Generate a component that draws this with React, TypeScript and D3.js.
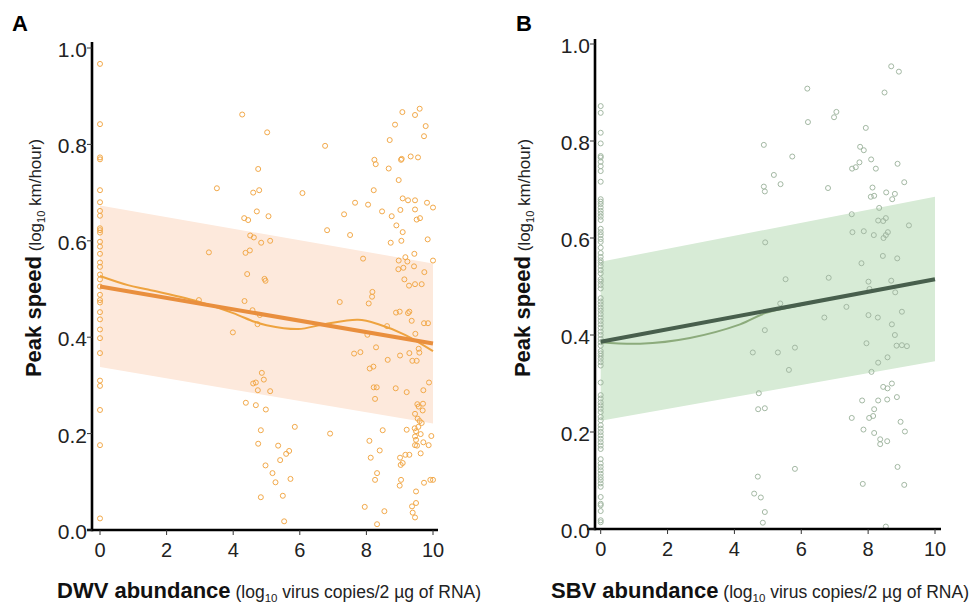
import {useEffect, useRef} from 'react';
import * as d3 from 'd3';

// [abundance, peak speed]
const dwvPoints: [number, number][] = [
  [0, 0.967], [0, 0.842], [0, 0.773], [0, 0.769], [0, 0.705], [0, 0.68], [0, 0.662], [0, 0.652],
  [0, 0.626], [0, 0.622], [0, 0.617], [0, 0.598], [0, 0.588], [0, 0.573], [0, 0.555], [0, 0.546],
  [0, 0.53], [0, 0.52], [0, 0.505], [0, 0.488], [0, 0.477], [0, 0.472], [0, 0.452], [0, 0.437],
  [0, 0.416], [0, 0.398], [0, 0.367], [0, 0.31], [0, 0.299], [0, 0.249], [0, 0.176], [0, 0.024],
  [4.27, 0.862], [5.02, 0.825], [6.76, 0.797], [3.51, 0.709], [4.75, 0.749], [4.6, 0.7], [4.78, 0.705],
  [6.08, 0.699], [4.71, 0.661], [4.33, 0.647], [4.45, 0.643], [5.06, 0.651], [6.82, 0.622], [4.51, 0.611],
  [4.62, 0.607], [4.84, 0.596], [5.11, 0.6], [3.27, 0.576], [4.37, 0.575], [4.5, 0.58], [4.42, 0.531],
  [4.94, 0.521], [4.97, 0.517], [7.33, 0.655], [7.51, 0.612], [7.66, 0.679], [8.05, 0.675], [7.9, 0.563],
  [8.22, 0.705], [8.24, 0.768], [8.28, 0.759], [8.47, 0.661], [8.67, 0.75], [8.7, 0.809], [8.86, 0.841],
  [8.97, 0.726], [9.04, 0.768], [9.06, 0.77], [9.08, 0.867], [9.33, 0.775], [9.55, 0.773], [9.46, 0.861],
  [9.6, 0.874], [9.78, 0.838], [9.73, 0.817], [9.09, 0.688], [9.25, 0.684], [9.46, 0.684], [9.82, 0.679],
  [10, 0.669], [9.02, 0.664], [8.76, 0.651], [9.46, 0.665], [8.9, 0.632], [9.09, 0.618], [9.51, 0.644],
  [9.61, 0.647], [8.73, 0.596], [9.05, 0.6], [9.84, 0.603], [9.44, 0.573], [9.17, 0.566], [8.97, 0.559],
  [9.23, 0.557], [10, 0.559], [8.96, 0.541], [9.11, 0.544], [9.43, 0.547], [9.74, 0.535], [9.14, 0.52],
  [9.28, 0.507], [9.46, 0.51], [9.66, 0.51], [8.18, 0.494], [8.17, 0.484], [4.34, 0.475], [7.2, 0.473],
  [2.97, 0.477], [8.07, 0.47], [4.58, 0.456], [4.8, 0.446], [4.73, 0.427], [3.99, 0.41], [8.89, 0.451],
  [9.0, 0.453], [9.25, 0.45], [9.29, 0.453], [9.36, 0.434], [8.62, 0.423], [9.47, 0.407], [9.73, 0.429],
  [9.85, 0.429], [8.03, 0.405], [8.29, 0.379], [9.57, 0.376], [9.59, 0.368], [7.63, 0.366], [7.82, 0.369],
  [9.01, 0.362], [9.29, 0.367], [8.64, 0.353], [9.38, 0.351], [9.51, 0.351], [8.1, 0.335], [8.21, 0.339],
  [9.88, 0.306], [4.86, 0.326], [4.6, 0.304], [4.68, 0.306], [4.92, 0.312], [4.74, 0.29], [5.11, 0.288],
  [8.22, 0.296], [8.31, 0.296], [8.88, 0.294], [9.21, 0.286], [9.71, 0.29], [8.26, 0.272], [4.38, 0.264],
  [4.68, 0.259], [4.98, 0.25], [9.53, 0.261], [9.57, 0.256], [9.7, 0.262], [9.69, 0.248], [9.46, 0.241],
  [9.54, 0.231], [9.6, 0.226], [9.66, 0.222], [4.83, 0.207], [5.85, 0.214], [6.91, 0.2], [8.49, 0.207],
  [9.21, 0.208], [9.45, 0.211], [9.49, 0.205], [9.56, 0.214], [9.63, 0.199], [9.95, 0.195], [9.46, 0.194],
  [9.49, 0.187], [8.09, 0.185], [9.71, 0.182], [9.87, 0.176], [9.46, 0.176], [9.52, 0.175], [4.75, 0.179],
  [5.35, 0.175], [5.68, 0.164], [5.59, 0.158], [8.4, 0.165], [8.13, 0.15], [9.01, 0.15], [9.17, 0.156],
  [9.29, 0.156], [9.63, 0.159], [5.41, 0.145], [9.03, 0.135], [9.09, 0.139], [4.97, 0.134], [5.18, 0.118],
  [8.32, 0.118], [5.27, 0.099], [5.72, 0.106], [8.26, 0.104], [9.04, 0.104], [9.0, 0.092], [9.73, 0.098],
  [9.92, 0.104], [10, 0.104], [9.49, 0.08], [4.83, 0.068], [5.49, 0.071], [7.95, 0.048], [9.37, 0.049],
  [9.49, 0.056], [8.54, 0.039], [9.39, 0.036], [9.46, 0.026], [5.53, 0.018], [8.32, 0.012],
];

const sbvPoints: [number, number][] = [
  [0, 0.872], [0, 0.858], [0, 0.817], [0, 0.795], [0, 0.769], [0, 0.766], [0, 0.757], [0, 0.748],
  [0, 0.738], [0, 0.716], [0, 0.68], [0, 0.675], [0, 0.67], [0, 0.663], [0, 0.656], [0, 0.65],
  [0, 0.644], [0, 0.637], [0, 0.619], [0, 0.612], [0, 0.606], [0, 0.598], [0, 0.592], [0, 0.58],
  [0, 0.569], [0, 0.561], [0, 0.554], [0, 0.549], [0, 0.542], [0, 0.534], [0, 0.527], [0, 0.515],
  [0, 0.51], [0, 0.503], [0, 0.496], [0, 0.476], [0, 0.469], [0, 0.463], [0, 0.456], [0, 0.45],
  [0, 0.443], [0, 0.436], [0, 0.429], [0, 0.422], [0, 0.415], [0, 0.407], [0, 0.4], [0, 0.392],
  [0, 0.385], [0, 0.378], [0, 0.367], [0, 0.362], [0, 0.357], [0, 0.351], [0, 0.344], [0, 0.337],
  [0, 0.302], [0, 0.276], [0, 0.269], [0, 0.261], [0, 0.255], [0, 0.248], [0, 0.241], [0, 0.231],
  [0, 0.224], [0, 0.214], [0, 0.207], [0, 0.2], [0, 0.193], [0, 0.186], [0, 0.179], [0, 0.172],
  [0, 0.165], [0, 0.144], [0, 0.135], [0, 0.128], [0, 0.121], [0, 0.114], [0, 0.107], [0, 0.101],
  [0, 0.094], [0, 0.087], [0, 0.066], [0, 0.052], [0, 0.049], [0, 0.037], [0, 0.018], [0, 0.014],
  [8.69, 0.954], [8.92, 0.943], [6.18, 0.908], [8.49, 0.9], [6.2, 0.839], [6.98, 0.849], [7.05, 0.86],
  [7.93, 0.827], [4.88, 0.792], [5.73, 0.768], [7.76, 0.788], [7.87, 0.781], [8.09, 0.762], [7.74, 0.756],
  [7.52, 0.743], [7.63, 0.746], [8.23, 0.743], [8.88, 0.753], [5.18, 0.73], [5.38, 0.711], [9.08, 0.715],
  [4.88, 0.706], [4.91, 0.696], [6.8, 0.703], [8.13, 0.704], [8.54, 0.694], [8.8, 0.691], [8.72, 0.68],
  [8.08, 0.685], [8.18, 0.687], [8.33, 0.662], [7.51, 0.649], [8.3, 0.636], [8.45, 0.635], [8.53, 0.641],
  [4.92, 0.591], [7.53, 0.612], [7.87, 0.614], [8.17, 0.606], [8.59, 0.612], [8.53, 0.606], [8.46, 0.6],
  [9.22, 0.626], [8.44, 0.563], [8.87, 0.558], [7.8, 0.548], [5.53, 0.515], [6.82, 0.518], [8.01, 0.51],
  [8.69, 0.512], [8.04, 0.495], [8.81, 0.488], [5.37, 0.465], [7.35, 0.458], [6.69, 0.436], [8.01, 0.441],
  [8.29, 0.436], [9.01, 0.448], [8.71, 0.422], [4.91, 0.41], [8.8, 0.4], [7.95, 0.383], [8.85, 0.378],
  [9.01, 0.379], [9.16, 0.377], [4.55, 0.364], [5.3, 0.364], [5.81, 0.374], [8.58, 0.354], [8.3, 0.343],
  [5.63, 0.328], [8.1, 0.324], [8.45, 0.293], [8.58, 0.29], [8.71, 0.3], [4.73, 0.28], [7.82, 0.265],
  [8.3, 0.265], [8.57, 0.267], [8.86, 0.272], [4.71, 0.247], [4.91, 0.249], [8.18, 0.247], [7.51, 0.229],
  [8.03, 0.229], [8.15, 0.233], [8.97, 0.221], [7.86, 0.205], [8.18, 0.198], [9.1, 0.201], [8.36, 0.185],
  [8.36, 0.175], [8.57, 0.181], [5.81, 0.124], [8.88, 0.128], [4.7, 0.108], [7.84, 0.093], [9.08, 0.091],
  [4.59, 0.073], [4.79, 0.065], [4.91, 0.035], [4.85, 0.013], [8.53, 0.005],
];

// [x, lower, upper]
const dwvBand: [number, number, number][] = [[0, 0.338, 0.673], [10, 0.221, 0.553]];
const sbvBand: [number, number, number][] = [[0, 0.223, 0.551], [10, 0.346, 0.685]];

// linear fit endpoints
const dwvFit: [number, number][] = [[0, 0.505], [10, 0.387]];
const sbvFit: [number, number][] = [[0, 0.386], [10, 0.515]];

// smoothed fit
const dwvLoess: [number, number][] = [
  [0, 0.527], [0.84, 0.508], [1.44, 0.499], [2.94, 0.474], [4.0, 0.45], [4.64, 0.432], [5.0, 0.425],
  [5.95, 0.417], [6.74, 0.427], [7.75, 0.436], [8.36, 0.427], [9.16, 0.405], [10, 0.371],
];
const sbvLoess: [number, number][] = [
  [0, 0.385], [1.18, 0.382], [2.67, 0.394], [4.17, 0.422], [4.92, 0.445], [6, 0.462], [7, 0.476],
  [8, 0.489], [9, 0.502], [10, 0.514],
];

const xTicks = [0, 2, 4, 6, 8, 10];
const yTicks = [0, 0.2, 0.4, 0.6, 0.8, 1.0];

const FONT = '"Liberation Sans", Arial, Helvetica, sans-serif';

interface PanelSpec {
  letter: string;
  letterX: number;
  virus: string;
  points: [number, number][];
  band: [number, number, number][];
  fit: [number, number][];
  loess: [number, number][];
  xRange: [number, number];
  yRange: [number, number];
  axisX: number;
  axisTop: number;
  axisLeft: number;
  axisRight: number;
  titleX: number;
  xTitleStart: number;
  colors: {band: string; point: string; fit: string; loess: string};
}

const panels: PanelSpec[] = [
  {
    letter: 'A',
    letterX: 12,
    virus: 'DWV',
    points: dwvPoints,
    band: dwvBand,
    fit: dwvFit,
    loess: dwvLoess,
    xRange: [100, 433],
    yRange: [530, 48],
    axisX: 92,
    axisTop: 42,
    axisLeft: 87,
    axisRight: 438,
    titleX: 41,
    xTitleStart: 57,
    colors: {band: '#fde9dc', point: '#f2a94a', fit: '#e98f3e', loess: '#eea33f'},
  },
  {
    letter: 'B',
    letterX: 516,
    virus: 'SBV',
    points: sbvPoints,
    band: sbvBand,
    fit: sbvFit,
    loess: sbvLoess,
    xRange: [600.7, 935],
    yRange: [529, 44],
    axisX: 595,
    axisTop: 39,
    axisLeft: 587,
    axisRight: 941,
    titleX: 530,
    xTitleStart: 551,
    colors: {band: '#d7ebd6', point: '#a3b8a3', fit: '#485f4d', loess: '#8cab7c'},
  },
];

export default function App() {
  const svgRef = useRef<SVGSVGElement>(null);

  useEffect(() => {
    if (!svgRef.current) return;
    const svg = d3.select(svgRef.current);
    svg.selectAll('*').remove();

    svg.append('rect').attr('width', 971).attr('height', 603).attr('fill', '#ffffff');

    panels.forEach((p) => {
      const g = svg.append('g');
      const x = d3.scaleLinear().domain([0, 10]).range(p.xRange);
      const y = d3.scaleLinear().domain([0, 1]).range(p.yRange);

      // prediction band
      const area = d3
        .area<[number, number, number]>()
        .x((d) => x(d[0]))
        .y0((d) => y(d[1]))
        .y1((d) => y(d[2]));
      g.append('path').attr('d', area(p.band)).attr('fill', p.colors.band);

      // points
      g.selectAll('circle.pt')
        .data(p.points)
        .join('circle')
        .attr('class', 'pt')
        .attr('cx', (d) => x(d[0]))
        .attr('cy', (d) => y(d[1]))
        .attr('r', 2.5)
        .attr('fill', 'none')
        .attr('stroke', p.colors.point)
        .attr('stroke-width', 1);

      const line = d3
        .line<[number, number]>()
        .x((d) => x(d[0]))
        .y((d) => y(d[1]));

      g.append('path')
        .attr('d', line.curve(d3.curveCatmullRom)(p.loess))
        .attr('fill', 'none')
        .attr('stroke', p.colors.loess)
        .attr('stroke-width', 2);

      g.append('path')
        .attr('d', line.curve(d3.curveLinear)(p.fit))
        .attr('fill', 'none')
        .attr('stroke', p.colors.fit)
        .attr('stroke-width', 4);

      // axes
      const xAxisY = p.yRange[0];
      g.append('line')
        .attr('x1', p.axisX)
        .attr('x2', p.axisX)
        .attr('y1', p.axisTop)
        .attr('y2', xAxisY + 1.2)
        .attr('stroke', '#000')
        .attr('stroke-width', 2.6);
      g.append('line')
        .attr('x1', p.axisLeft)
        .attr('x2', p.axisRight)
        .attr('y1', xAxisY)
        .attr('y2', xAxisY)
        .attr('stroke', '#000')
        .attr('stroke-width', 2.6);

      g.selectAll('line.ytick')
        .data(yTicks)
        .join('line')
        .attr('class', 'ytick')
        .attr('x1', p.axisX - 5)
        .attr('x2', p.axisX)
        .attr('y1', (d) => y(d))
        .attr('y2', (d) => y(d))
        .attr('stroke', '#333')
        .attr('stroke-width', 1);

      g.selectAll('text.ytick')
        .data(yTicks)
        .join('text')
        .attr('class', 'ytick')
        .attr('x', p.axisX - 5)
        .attr('y', (d) => y(d) + 9)
        .attr('text-anchor', 'end')
        .attr('font-family', FONT)
        .attr('font-size', '21px')
        .attr('fill', '#222')
        .text((d) => d3.format('.1f')(d));

      g.selectAll('line.xtick')
        .data(xTicks)
        .join('line')
        .attr('class', 'xtick')
        .attr('x1', (d) => x(d))
        .attr('x2', (d) => x(d))
        .attr('y1', xAxisY)
        .attr('y2', xAxisY + 5)
        .attr('stroke', '#333')
        .attr('stroke-width', 1);

      g.selectAll('text.xtick')
        .data(xTicks)
        .join('text')
        .attr('class', 'xtick')
        .attr('x', (d) => x(d))
        .attr('y', xAxisY + 27)
        .attr('text-anchor', 'middle')
        .attr('font-family', FONT)
        .attr('font-size', '20px')
        .attr('fill', '#222')
        .text((d) => String(d));

      // panel letter
      svg.append('text')
        .attr('x', p.letterX)
        .attr('y', 30.5)
        .attr('font-family', FONT)
        .attr('font-weight', 'bold')
        .attr('font-size', '22px')
        .attr('fill', '#000')
        .text(p.letter);

      // y title
      const yt = svg
        .append('text')
        .attr('transform', `translate(${p.titleX},258) rotate(-90)`)
        .attr('text-anchor', 'middle')
        .attr('font-family', FONT)
        .attr('fill', '#222');
      yt.append('tspan').attr('font-weight', 'bold').attr('font-size', '22px').attr('fill', '#111').text('Peak speed');
      yt.append('tspan').attr('font-size', '17px').text(' (log');
      yt.append('tspan').attr('font-size', '11px').attr('dy', 4).text('10');
      yt.append('tspan').attr('font-size', '17px').attr('dy', -4).text(' km/hour)');

      // x title
      const xt = svg
        .append('text')
        .attr('x', p.xTitleStart)
        .attr('y', 598)
        .attr('font-family', FONT)
        .attr('fill', '#222');
      xt.append('tspan').attr('font-weight', 'bold').attr('font-size', '22px').attr('fill', '#111').text(`${p.virus} abundance`);
      xt.append('tspan').attr('font-size', '17.5px').text(' (log');
      xt.append('tspan').attr('font-size', '11.5px').attr('dy', 4).text('10');
      xt.append('tspan').attr('font-size', '17.5px').attr('dy', -4).text(' virus copies/2 µg of RNA)');
    });
  }, []);

  return (
    <svg
      ref={svgRef}
      width={971}
      height={603}
      style={{position: 'absolute', left: 0, top: 0, display: 'block'}}
    />
  );
}
